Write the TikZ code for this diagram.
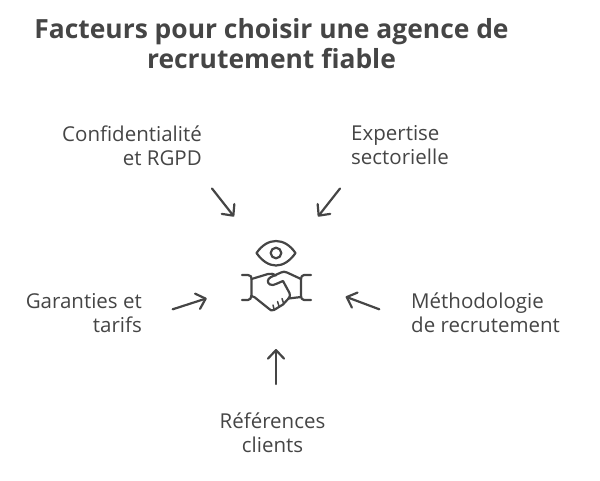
\documentclass[tikz,border=0pt]{standalone}
\usepackage{fontspec}
\setmainfont{Open Sans}
\usetikzlibrary{arrows.meta}
\definecolor{ink}{HTML}{454545}
\tikzset{
  lab/.style={inner sep=0pt,text=ink,font=\fontsize{20.5}{24}\selectfont},
  ttl/.style={inner sep=0pt,text=ink,align=center,font=\fontsize{26.4}{30}\selectfont\bfseries},
  arr/.style={draw=ink,line width=2.2pt,line cap=round,line join=round,-{Straight Barb[length=8.5pt,width=16pt,line width=2.2pt,round]}},
  ico/.style={draw=ink,line width=2.2pt,line cap=round,line join=round}
}
\begin{document}
\begin{tikzpicture}[x=1pt,y=-1pt]
\useasboundingbox (0,0) rectangle (600,480);
\node[ttl,anchor=north] (title) at (271.5,18) {Facteurs pour choisir une agence de\\recrutement fiable};
\node[lab,align=right,anchor=north east] (conf) at (202,125.5) {Confidentialité\\et RGPD};
\node[lab,align=left,anchor=north west] (expe) at (351,125.5) {Expertise\\sectorielle};
\node[lab,align=right,anchor=north east] (gara) at (142,293) {Garanties et\\tarifs};
\node[lab,align=left,anchor=north west] (meth) at (411,293) {Méthodologie\\de recrutement};
\node[lab,align=center,anchor=north] (refe) at (272.5,413) {Références\\clients};
\coordinate (a1s) at (212,188.5); \coordinate (a1e) at (234,216.5);
\coordinate (a2s) at (340,188.5); \coordinate (a2e) at (318,216.5);
\coordinate (a3s) at (172.7,309.3); \coordinate (a3e) at (206.7,298.3);
\coordinate (a4s) at (379.3,309.3); \coordinate (a4e) at (345.7,296.7);
\coordinate (a5s) at (276,384); \coordinate (a5e) at (276,349);
\foreach \i in {1,...,5} \draw[arr] (a\i s) -- (a\i e);
% eye
\draw[ico] (256.5,253) .. controls (262,245) and (269,241) .. (276,241) .. controls (283,241) and (290,245) .. (295.5,253) .. controls (290,261) and (283,265.5) .. (276,265.5) .. controls (269,265.5) and (262,261) .. (256.5,253) -- cycle;
\draw[ico] (276,253) circle (5.3);
% handshake
\draw[ico] (242,275) -- (248,275) .. controls (251,275) and (251.5,277) .. (251.5,279) -- (251.5,295) .. controls (251.5,298) and (250,300) .. (248,300) -- (242,300);
\draw[ico] (311,275) -- (304,275) .. controls (302,275) and (301,277) .. (301,279) -- (301,296) .. controls (301,298) and (302,300) .. (304,300) -- (311,300);
\draw[ico] (251.5,279) -- (268,274) .. controls (271,273) and (274,274) .. (276,275.5);
\draw[ico] (301,279) -- (287,272.5) .. controls (285,271.5) and (283,271.5) .. (281,272.5) -- (271,277) .. controls (267,279) and (267,283) .. (270,284.5) .. controls (272,285.5) and (274,285) .. (276,284) -- (283,281) -- (289.5,293) .. controls (290.5,295) and (290,297) .. (288.5,298.5) -- (301,297);
\draw[ico] (251.5,296) .. controls (254,296.5) and (256,298) .. (258,300) -- (268,308) .. controls (270,310.5) and (272,311) .. (274,310) -- (283,304.5) -- (288.5,298.5);
\draw[ico,line width=1.5pt] (274,309) -- (273,305) (279,306) -- (277.5,301.5) (283.5,303) -- (282,298.5);
\end{tikzpicture}
\end{document}
